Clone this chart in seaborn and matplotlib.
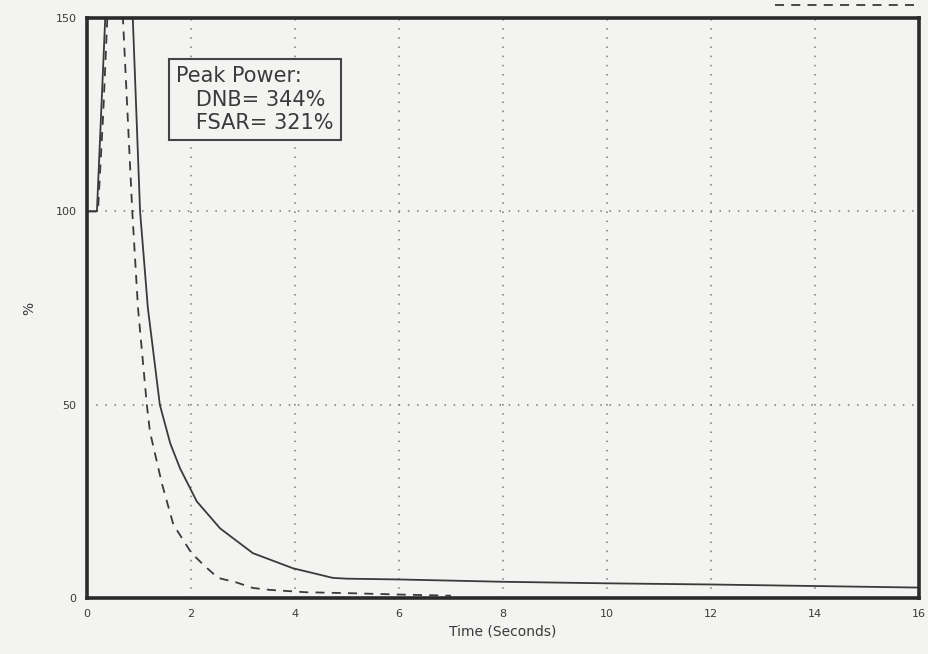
import numpy as np
import pandas as pd
import matplotlib
matplotlib.use("Agg")
import matplotlib.pyplot as plt
import seaborn as sns
from matplotlib.lines import Line2D

# DNB case (solid line), % power vs time (s)
dnb_t = [0, 0.19, 0.27, 0.35, 0.52, 0.72, 0.88, 1.02, 1.17, 1.40, 1.60, 1.79, 2.11, 2.56,
         3.19, 3.96, 4.73, 5.0, 6.0, 8.0, 10.0, 12.0, 14.0, 16.0]
dnb_p = [100, 100, 125, 150, 344, 210, 150, 100, 75, 50, 40, 33.5, 25, 18,
         11.6, 7.7, 5.2, 5.0, 4.8, 4.2, 3.8, 3.5, 3.1, 2.7]

# FSAR case (dashed line)
fsar_t = [0, 0.21, 0.31, 0.39, 0.5, 0.6, 0.69, 0.87, 0.98, 1.15, 1.21, 1.44, 1.66,
          2.01, 2.27, 2.52, 2.88, 3.19, 3.52, 4.2, 5.2, 6.0, 7.0]
fsar_p = [100, 100, 125, 150, 321, 220, 150, 100, 75, 50, 43, 29.6, 19,
          11.6, 8.2, 5.2, 4.0, 2.6, 2.1, 1.5, 1.2, 0.9, 0.6]

x_ticks = [0, 2, 4, 6, 8, 10, 12, 14, 16]
y_ticks = [0, 50, 100, 150]

df = pd.concat([
    pd.DataFrame({"t": dnb_t, "p": dnb_p, "case": "DNB"}),
    pd.DataFrame({"t": fsar_t, "p": fsar_p, "case": "FSAR"}),
])

sns.set_style("white")
plt.rcParams['font.family'] = ['DejaVu Sans']

bg = "#f3f3f1"
ink = "#3a3a3a"
fig = plt.figure(figsize=(9.29, 6.54), dpi=100, facecolor=bg)
ax = fig.add_axes([0.0937, 0.0856, 0.8953, 0.8869])
ax.set_facecolor(bg)

sns.lineplot(data=df, x="t", y="p", style="case", dashes={"DNB": "", "FSAR": (5, 4)},
             color=ink, linewidth=1.3, ax=ax, legend=False, sort=False)

ax.set_xlim(0, 16)
ax.set_ylim(0, 150)
ax.set_xticks(x_ticks)
ax.set_yticks(y_ticks)
ax.tick_params(axis="both", labelsize=8, colors=ink, length=4, width=1, direction="out")
ax.tick_params(axis="x", length=0, pad=8)
ax.grid(True, linestyle=(0, (1, 5)), color="#777777", linewidth=1.1)

for s in ax.spines.values():
    s.set_linewidth(2.6)
    s.set_color("#2a2a2a")

ax.set_xlabel("Time (Seconds)", fontsize=10, color=ink, labelpad=4)
ax.set_ylabel("%", fontsize=10, color=ink, labelpad=14)

ax.text(1.72, 137.5, "Peak Power:\n   DNB= 344%\n   FSAR= 321%", fontsize=15,
        color=ink, va="top", ha="left", linespacing=1.2,
        bbox=dict(boxstyle="square,pad=0.35", facecolor=bg, edgecolor="#444444", linewidth=1.5))

# legend fragment above the top right corner
h = Line2D([], [], color=ink, linestyle=(0, (5, 4)), linewidth=1.3)
ax.legend([h], [""], loc="lower right", bbox_to_anchor=(1.012, 0.995), frameon=False,
          handlelength=10.5, handletextpad=0, borderpad=0.1)

fig.savefig("out.png", dpi=100, facecolor=bg)
